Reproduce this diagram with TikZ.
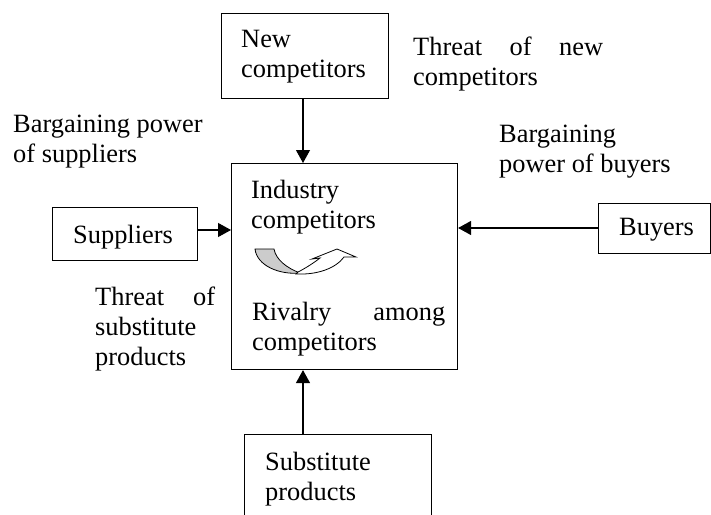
\documentclass[tikz,border=0pt]{standalone}
\usepackage{fontspec}
\setmainfont{Liberation Serif}
\usetikzlibrary{arrows.meta}
\newcommand\blk[2]{\parbox[t]{#1}{#2}}
\begin{document}
\begin{tikzpicture}[x=1pt,y=-1pt,
  box/.style={draw,line width=1.1pt,anchor=north west,inner sep=0pt},
  lbl/.style={anchor=base west,inner sep=0pt,font=\fontsize{26.4}{30}\selectfont},
  arr/.style={-{Triangle[length=13pt,width=14pt]},line width=1.1pt}]
\useasboundingbox (0,0) rectangle (711,514);
% boxes
\node[box,minimum width=167pt,minimum height=85pt] (newc) at (221,13) {};
\node[box,minimum width=226pt,minimum height=206pt] (main) at (231,163) {};
\node[box,minimum width=145pt,minimum height=53pt] (sup) at (52,207) {};
\node[box,minimum width=112pt,minimum height=50pt] (buy) at (598,203) {};
\node[box,minimum width=187pt,minimum height=100pt] (subst) at (244,434) {};
% texts
\node[lbl] (tnew) at (241,47) {\blk{150pt}{New\\competitors}};
\node[lbl] (tthreatnew) at (413,55) {\blk{190pt}{\makebox[190pt][s]{Threat of new}\\competitors}};
\node[lbl] (tbps) at (13,132) {\blk{200pt}{Bargaining power\\of suppliers}};
\node[lbl] (tbpb) at (499,142) {\blk{200pt}{Bargaining\\power of buyers}};
\node[lbl] (tind) at (251,198) {\blk{193pt}{Industry\\competitors}};
\node[lbl] (triv) at (252,320) {\blk{193pt}{\makebox[193pt][s]{Rivalry among}\\competitors}};
\node[lbl] (tsubthr) at (95,305) {\blk{120pt}{\makebox[120pt][s]{Threat of}\\substitute\\products}};
\node[lbl] (tsup) at (73,243) {Suppliers};
\node[lbl] (tbuy) at (619,235) {Buyers};
\node[lbl] (tsubst) at (265,470) {\blk{160pt}{Substitute\\products}};
% connectors
\draw[arr] (newc.south -| 303,0) -- (main.north -| 303,0);
\draw[arr] (subst.north -| 303,0) -- (main.south -| 303,0);
\draw[arr] (sup.east |- 0,230) -- (main.west |- 0,230);
\draw[arr] (buy.west |- 0,228) -- (main.east |- 0,228);
% curved arrow
\draw[line width=0.8pt,fill=gray!40] (255,249) .. controls (257,266) and (280,275) .. (300,273)
  .. controls (287,268) and (276,260) .. (274,249) -- cycle;
\draw[line width=0.8pt,fill=white] (298,272) .. controls (306,268) and (315,262) .. (320,258)
  -- (312,259) -- (337,249) -- (356,257) -- (344,257)
  .. controls (336,268) and (318,275) .. (296,274) -- cycle;
\end{tikzpicture}
\end{document}
